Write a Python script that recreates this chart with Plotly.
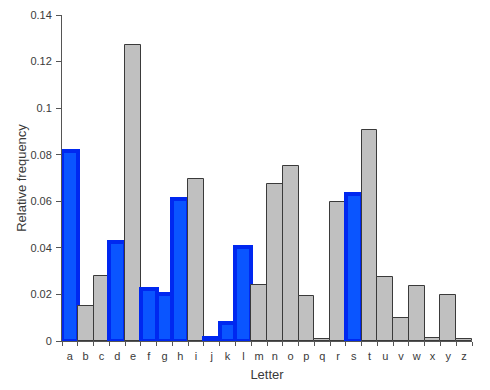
import plotly.graph_objects as go

letters = list("abcdefghijklmnopqrstuvwxyz")
freq = [0.0817, 0.0149, 0.0278, 0.0425, 0.1270, 0.0223, 0.0202, 0.0609, 0.0697,
        0.0015, 0.0077, 0.0403, 0.0241, 0.0675, 0.0751, 0.0193, 0.0010, 0.0599,
        0.0633, 0.0906, 0.0276, 0.0098, 0.0236, 0.0015, 0.0197, 0.0007]
highlighted = list("adfghjkls")

fill = ["#0a55ff" if l in highlighted else "#c0c0c0" for l in letters]
line_col = ["#0028f0" if l in highlighted else "#3a3a3a" for l in letters]
line_w = [4 if l in highlighted else 1 for l in letters]

fig = go.Figure(go.Bar(
    x=letters, y=freq,
    marker=dict(color=fill, line=dict(color=line_col, width=line_w)),
))

fig.update_layout(
    width=482, height=382,
    margin=dict(l=54, r=18, t=7, b=49, autoexpand=False),
    paper_bgcolor="white", plot_bgcolor="white",
    bargap=0, showlegend=False,
    font=dict(family="Liberation Sans, Arial, sans-serif", size=11, color="#3a3a3a"),
)
fig.update_xaxes(
    range=[-0.5, 25.5], showgrid=False, showline=True, linecolor="#555", linewidth=1,
    ticks="outside", tickson="boundaries", ticklen=4, tickcolor="#555",
    tickangle=0, automargin=False, ticklabelstandoff=5,
    title=dict(text="Letter", font=dict(size=13), standoff=8),
    tickfont=dict(size=11), zeroline=False,
)
fig.update_yaxes(
    range=[0, 0.14], dtick=0.02, showgrid=False, showline=True, linecolor="#555", linewidth=1,
    ticks="outside", ticklen=5, tickcolor="#555", zeroline=False, automargin=False,
    tickformat="~g", ticklabelstandoff=2,
    title=dict(text="Relative frequency", font=dict(size=13), standoff=0),
)
fig.write_html("out.html")
